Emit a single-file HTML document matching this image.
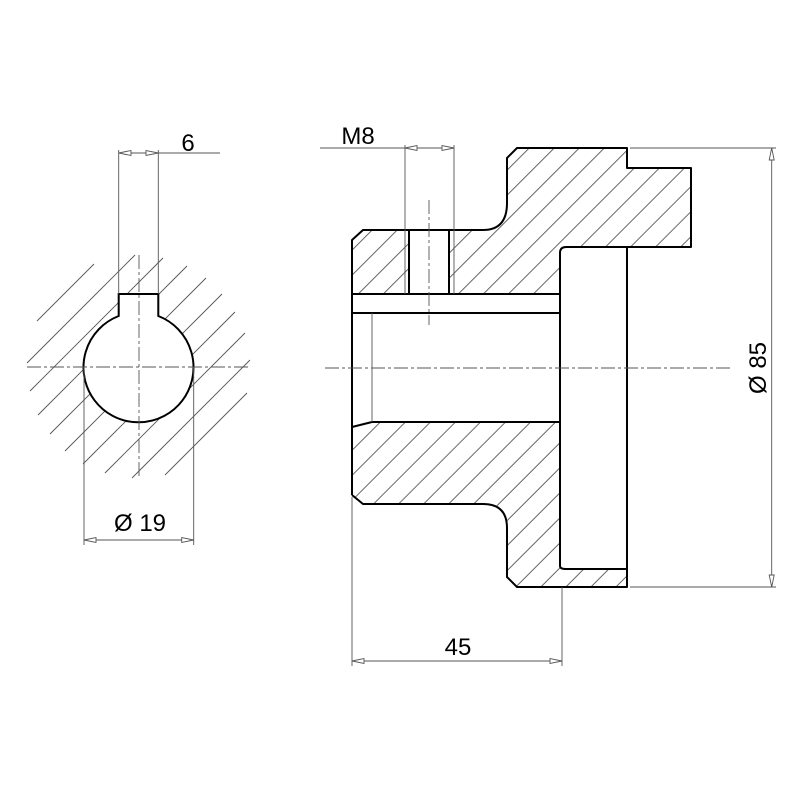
<!DOCTYPE html>
<html><head><meta charset="utf-8"><style>html,body{margin:0;padding:0;background:#fff}svg{display:block}</style></head>
<body>
<svg width="800" height="800" viewBox="0 0 800 800" xmlns="http://www.w3.org/2000/svg" font-family="Liberation Sans, sans-serif">
<defs>
<pattern id="h" patternUnits="userSpaceOnUse" width="17.7" height="10" patternTransform="rotate(45)">
<line x1="1" y1="-5" x2="1" y2="15" stroke="#555" stroke-width="0.9"/>
</pattern>
</defs>
<rect width="800" height="800" fill="#fff"/>

<g stroke="#555" stroke-width="0.9">
<line x1="37" y1="321" x2="94" y2="264"/>
<line x1="27" y1="363" x2="135" y2="255"/>
<line x1="30" y1="391" x2="163" y2="258"/>
<line x1="38" y1="415" x2="187" y2="266"/>
<line x1="50" y1="434" x2="206" y2="278"/>
<line x1="65" y1="451" x2="222" y2="294"/>
<line x1="83" y1="464" x2="235" y2="312"/>
<line x1="105" y1="473" x2="245" y2="333"/>
<line x1="132" y1="478" x2="250" y2="360"/>
<line x1="165" y1="475" x2="247" y2="393"/>
</g>
<path d="M118.7,294 L158.3,294 L158.3,316 A55,55 0 1 1 118.7,316 Z" fill="#fff" stroke="#000" stroke-width="2"/>
<g stroke="#555" stroke-width="0.9" fill="none">
<line x1="27" y1="367" x2="250" y2="367" stroke-dasharray="14,3,3,3"/>
<line x1="139" y1="255" x2="139" y2="478" stroke-dasharray="14,3,3,3"/>
<line x1="118.7" y1="150" x2="118.7" y2="294"/>
<line x1="158.3" y1="150" x2="158.3" y2="294"/>
<line x1="118.7" y1="153" x2="220" y2="153"/>
<line x1="84" y1="367" x2="84" y2="545"/>
<line x1="193.7" y1="367" x2="193.7" y2="545"/>
<line x1="84" y1="540" x2="193.7" y2="540"/>
<polygon points="118.7,153 131,150.5 131,155.5" fill="#fff"/>
<polygon points="158.3,153 146,150.5 146,155.5" fill="#fff"/>
<polygon points="84,540 96,537.5 96,542.5" fill="#fff"/>
<polygon points="193.7,540 181.7,537.5 181.7,542.5" fill="#fff"/>
</g>
<text x="188" y="151" font-size="24" text-anchor="middle">6</text>
<text x="140" y="531" font-size="24" text-anchor="middle">Ø 19</text>

<path d="M352,240 L363,230 L483,230 Q507,230 507,203 L507,158 L517,148 L627,148 L627,168 L691,168 L691,247 L566,247 Q560,247 560,253 L560,294 L449,294 L449,230 L409,230 L409,294 L352,294 Z" fill="url(#h)" stroke="none"/>
<path d="M372,422 L560,422 L560,566 Q560,569 566,569 L627,569 L627,587 L517,587 L507,577 L507,528 Q507,504 483,504 L363,504 L352,495 L352,427 Z" fill="url(#h)" stroke="none"/>
<g stroke="#000" stroke-width="2" fill="none" stroke-linejoin="round">
<path d="M352,495 L352,240 L363,230 L483,230 Q507,230 507,203 L507,158 L517,148 L627,148 L627,168 L691,168 L691,247 L566,247 Q560,247 560,253 L560,566 Q560,569 566,569 L627,569"/>
<path d="M627,247 L627,587 L517,587 L507,577 L507,528 Q507,504 483,504 L363,504 L352,495"/>
<path d="M352,427 L372,422 L560,422"/>
<line x1="352" y1="294" x2="560" y2="294"/>
<line x1="352" y1="313" x2="560" y2="313"/>
<line x1="409" y1="230" x2="409" y2="294"/>
<line x1="449" y1="230" x2="449" y2="294"/>
</g>
<g stroke="#555" stroke-width="0.9" fill="none">
<line x1="372" y1="313" x2="372" y2="422"/>
<line x1="405" y1="145" x2="405" y2="294"/>
<line x1="454" y1="145" x2="454" y2="294"/>
<line x1="320" y1="148" x2="454" y2="148"/>
<polygon points="405,148 417,145.5 417,150.5" fill="#fff"/>
<polygon points="454,148 442,145.5 442,150.5" fill="#fff"/>
<line x1="429" y1="200" x2="429" y2="325" stroke-dasharray="14,3,3,3"/>
<line x1="325" y1="368" x2="730" y2="368" stroke-dasharray="14,3,3,3"/>
<line x1="630" y1="148" x2="776" y2="148"/>
<line x1="630" y1="587" x2="776" y2="587"/>
<line x1="771.7" y1="148" x2="771.7" y2="587"/>
<polygon points="771.7,148 769.2,160 774.2,160" fill="#fff"/>
<polygon points="771.7,587 769.2,575 774.2,575" fill="#fff"/>
<line x1="352" y1="497" x2="352" y2="666"/>
<line x1="562" y1="587" x2="562" y2="666"/>
<line x1="352" y1="661" x2="562" y2="661"/>
<polygon points="352,661 364,658.5 364,663.5" fill="#fff"/>
<polygon points="562,661 550,658.5 550,663.5" fill="#fff"/>
</g>
<text x="358" y="144" font-size="24" text-anchor="middle">M8</text>
<text x="458" y="655" font-size="24" text-anchor="middle">45</text>
<text x="0" y="0" font-size="24" text-anchor="middle" transform="translate(766,368) rotate(-90)">Ø 85</text>
</svg>
</body></html>
